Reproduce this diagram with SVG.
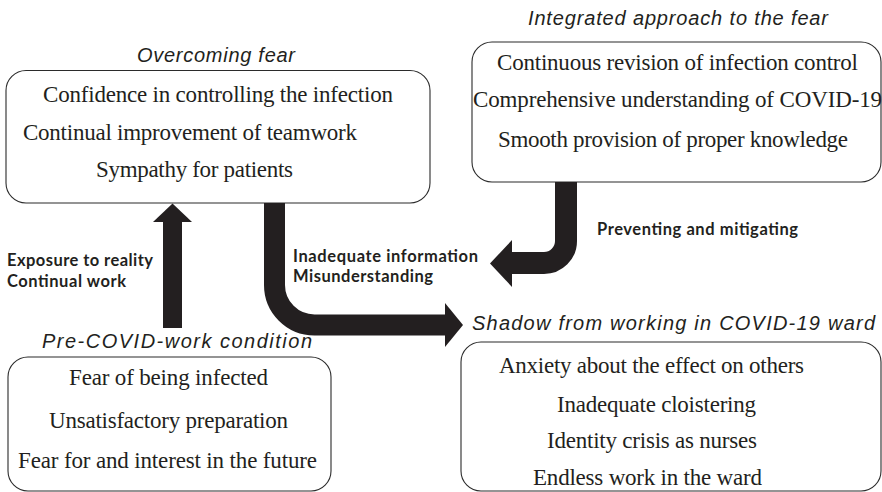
<svg xmlns="http://www.w3.org/2000/svg" width="882" height="492" viewBox="0 0 882 492">
  <style>
    .box { fill: #ffffff; stroke: #2b2b2b; stroke-width: 1.1; }
    .title { font-family: "Liberation Sans", Arial, sans-serif; font-style: italic; font-size: 20px; fill: #231f20; }
    .item { font-family: "Liberation Serif", "Times New Roman", serif; font-size: 23px; fill: #231f20; }
    .label { font-family: Lato, "Open Sans", sans-serif; font-weight: bold; font-size: 16.5px; fill: #231f20; }
    .shaft { fill: none; stroke: #231f20; }
    .head { fill: #231f20; }
  </style>
  <rect width="882" height="492" fill="#ffffff"/>

  <!-- Overcoming fear -->
  <g id="overcoming-fear">
    <text class="title" x="137" y="62" textLength="158" lengthAdjust="spacing">Overcoming fear</text>
    <rect class="box" x="6" y="70.5" width="424" height="132.5" rx="20" ry="20"/>
    <text class="item" x="43" y="102" textLength="350" lengthAdjust="spacing">Confidence in controlling the infection</text>
    <text class="item" x="23" y="140" textLength="334" lengthAdjust="spacing">Continual improvement of teamwork</text>
    <text class="item" x="96" y="177" textLength="197" lengthAdjust="spacing">Sympathy for patients</text>
  </g>

  <!-- Integrated approach to the fear -->
  <g id="integrated-approach">
    <text class="title" x="528" y="25" textLength="300" lengthAdjust="spacing">Integrated approach to the fear</text>
    <rect class="box" x="472" y="42" width="409" height="140" rx="20" ry="20"/>
    <text class="item" x="497" y="70" textLength="361" lengthAdjust="spacing">Continuous revision of infection control</text>
    <text class="item" x="473" y="107" textLength="409" lengthAdjust="spacing">Comprehensive understanding of COVID-19</text>
    <text class="item" x="498" y="147" textLength="350" lengthAdjust="spacing">Smooth provision of proper knowledge</text>
  </g>

  <!-- Pre-COVID-work condition -->
  <g id="pre-covid-work">
    <text class="title" x="42" y="348" textLength="270" lengthAdjust="spacing">Pre-COVID-work condition</text>
    <rect class="box" x="8" y="357" width="323" height="134" rx="20" ry="20"/>
    <text class="item" x="69" y="385" textLength="199" lengthAdjust="spacing">Fear of being infected</text>
    <text class="item" x="49" y="428" textLength="239" lengthAdjust="spacing">Unsatisfactory preparation</text>
    <text class="item" x="18" y="468" textLength="299" lengthAdjust="spacing">Fear for and interest in the future</text>
  </g>

  <!-- Shadow from working in COVID-19 ward -->
  <g id="shadow-covid-ward">
    <text class="title" x="472" y="330" textLength="403" lengthAdjust="spacing">Shadow from working in COVID-19 ward</text>
    <rect class="box" x="461" y="342" width="420" height="149" rx="20" ry="20"/>
    <text class="item" x="499" y="373" textLength="305" lengthAdjust="spacing">Anxiety about the effect on others</text>
    <text class="item" x="557" y="412" textLength="199" lengthAdjust="spacing">Inadequate cloistering</text>
    <text class="item" x="547" y="448" textLength="210" lengthAdjust="spacing">Identity crisis as nurses</text>
    <text class="item" x="533" y="485" textLength="229" lengthAdjust="spacing">Endless work in the ward</text>
  </g>

  <!-- Block arrows and their labels -->
  <g id="connectors">
    <!-- pre-work condition up to overcoming fear -->
    <rect class="head" x="163" y="221" width="19" height="107"/>
    <polygon class="head" points="153,222 172.5,203.5 192,222"/>
    <text class="label" x="7" y="266" textLength="146" lengthAdjust="spacing">Exposure to reality</text>
    <text class="label" x="7" y="287" textLength="119" lengthAdjust="spacing">Continual work</text>

    <!-- overcoming fear down and across to the ward shadow -->
    <path class="shaft" stroke-width="21" d="M274.5,203 V285 A40,40 0 0 0 314.5,325 H446"/>
    <polygon class="head" points="445,303 463,325 445,347"/>
    <text class="label" x="293" y="262" textLength="185" lengthAdjust="spacing">Inadequate information</text>
    <text class="label" x="293" y="282" textLength="140" lengthAdjust="spacing">Misunderstanding</text>

    <!-- integrated approach back toward the flow -->
    <path class="shaft" stroke-width="22" d="M566,182 V241 A22,22 0 0 1 544,263 H510"/>
    <polygon class="head" points="512,240 490,263.5 512,287"/>
    <text class="label" x="597" y="235" textLength="201" lengthAdjust="spacing">Preventing and mitigating</text>
  </g>
</svg>
